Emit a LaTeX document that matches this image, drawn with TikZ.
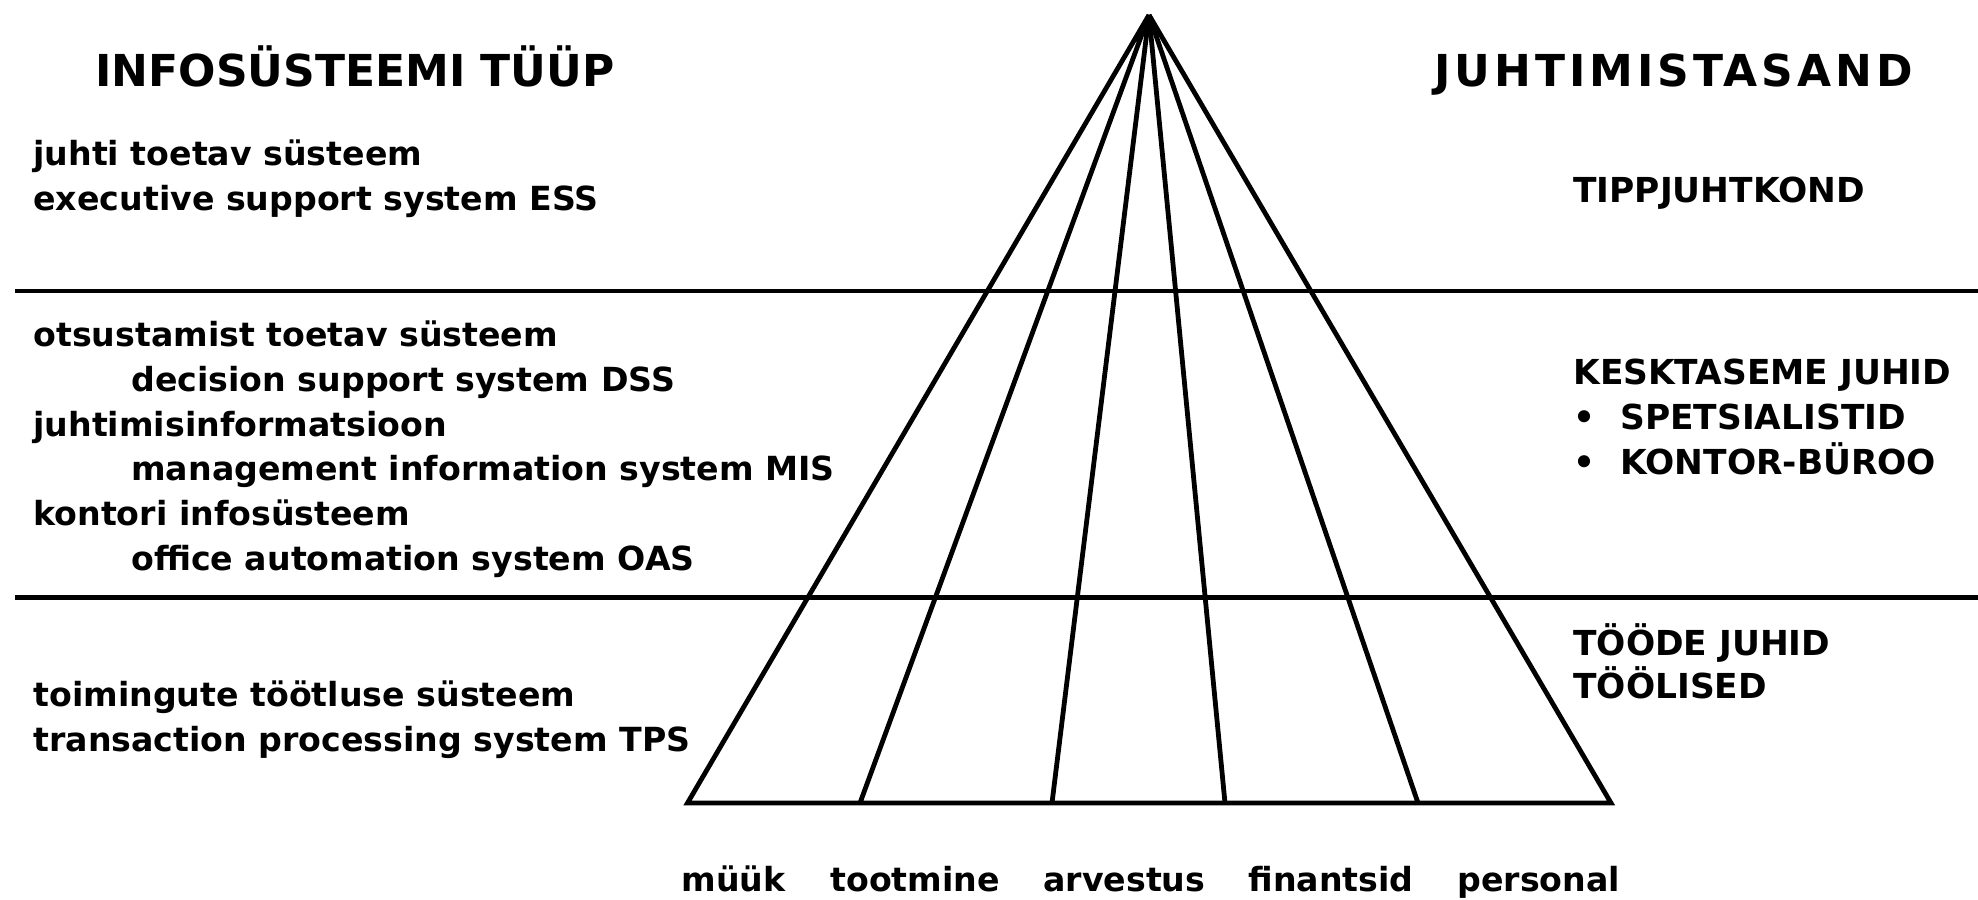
\documentclass[tikz,border=0pt]{standalone}
\usepackage{fontspec}
\setmainfont{DejaVu Sans}
\newfontfamily\widefont[LetterSpace=9]{DejaVu Sans}
\begin{document}
\begin{tikzpicture}[x=0.5pt,y=-0.5pt,
  txt/.style={anchor=base west,inner sep=0pt,font=\bfseries\fontsize{16.6}{20}\selectfont},
  head/.style={anchor=base west,inner sep=0pt,font=\bfseries\fontsize{22}{26}\selectfont},
  widehead/.style={anchor=base west,inner sep=0pt,font=\widefont\bfseries\fontsize{22}{26}\selectfont},
  caps/.style={anchor=base west,inner sep=0pt,font=\bfseries\fontsize{17.2}{20}\selectfont},
  sep/.style={line width=2.2pt},
  pyr/.style={line width=2.4pt,line join=miter}]
\useasboundingbox (0,0) rectangle (1978,900);
% separators
\coordinate (s1l) at (15,291);
\coordinate (s1r) at (1978,291);
\coordinate (s2l) at (15,597.5);
\coordinate (s2r) at (1978,597.5);
\draw[sep] (s1l) -- (s1r);
\draw[sep] (s2l) -- (s2r);
% pyramid
\coordinate (apex) at (1149,15);
\coordinate (b0) at (687.5,803);
\coordinate (b1) at (860,803);
\coordinate (b2) at (1052,803);
\coordinate (b3) at (1225,803);
\coordinate (b4) at (1418,803);
\coordinate (b5) at (1611,803);
\draw[pyr] (b1) -- (apex) -- (b0) -- (b5) -- (apex);
\draw[pyr] (apex) -- (b2);
\draw[pyr] (apex) -- (b3);
\draw[pyr] (apex) -- (b4);
% headings
\node[head] (h1) at (95,86) {INFOSÜSTEEMI TÜÜP};
\node[widehead] (h2) at (1434,86) {JUHTIMISTASAND};
% left texts
\node[txt] (l1) at (33,165) {juhti toetav süsteem};
\node[txt] (l2) at (33,210) {executive support system ESS};
\node[txt] (l3) at (33,346) {otsustamist toetav süsteem};
\node[txt] (l4) at (131,391) {decision support system DSS};
\node[txt] (l5) at (33,436) {juhtimisinformatsioon};
\node[txt] (l6) at (131,480) {management information system MIS};
\node[txt] (l7) at (33,525) {kontori infosüsteem};
\node[txt] (l8) at (131,570) {office automation system OAS};
\node[txt] (l9) at (33,706) {toimingute töötluse süsteem};
\node[txt] (l10) at (33,751) {transaction processing system TPS};
% right texts
\node[caps] (r1) at (1573,202) {TIPPJUHTKOND};
\node[caps] (r2) at (1573,384) {KESKTASEME JUHID};
\node[caps] (r3b) at (1573,429) {•};
\node[caps] (r3) at (1620,429) {SPETSIALISTID};
\node[caps] (r4b) at (1573,474) {•};
\node[caps] (r4) at (1620,474) {KONTOR-BÜROO};
\node[caps] (r5) at (1573,655) {TÖÖDE JUHID};
\node[caps] (r6) at (1573,698) {TÖÖLISED};
% bottom labels
\node[txt] (c1) at (681,891) {müük};
\node[txt] (c2) at (830,891) {tootmine};
\node[txt] (c3) at (1043,891) {arvestus};
\node[txt] (c4) at (1248,891) {finantsid};
\node[txt] (c5) at (1457,891) {personal};
\end{tikzpicture}
\end{document}
